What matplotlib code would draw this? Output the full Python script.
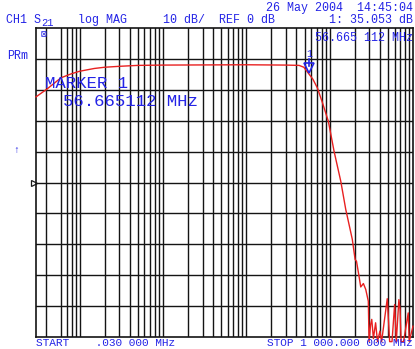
import numpy as np
import matplotlib
matplotlib.use("Agg")
import matplotlib.pyplot as plt
from matplotlib.transforms import blended_transform_factory

# trace (S21, log MAG)
freq_mhz = [0.03, 0.035, 0.04, 0.05, 0.06, 0.08, 0.1, 0.15, 0.2, 0.3, 0.5, 1.0,
            10.0, 30.0, 43.0, 49.0, 56.665, 63.0, 71.3, 82.0, 96.5, 113.0,
            136.0, 156.0, 187.0, 202.0, 210.0, 225.0, 236.0, 254.0, 271.0,
            291.0, 297.0, 310.0, 320.0, 335.0, 356.0, 375.0, 401.0, 420.0,
            491.0, 525.0, 560.0, 602.0, 630.0, 677.0, 700.0, 720.0, 770.0,
            877.0, 900.0, 1000.0]
s21_db = [27.7, 29.0, 30.1, 32.2, 33.9, 35.2, 36.0, 36.9, 37.3, 37.6, 37.9, 38.0,
          38.1, 38.0, 37.9, 37.3, 35.05, 33.4, 30.6, 25.8, 19.8, 10.1,
          0.4, -8.7, -18.4, -24.9, -25.5, -30.3, -33.8, -32.7, -34.6,
          -38.4, -51.5, -46.0, -44.3, -50.5, -45.4, -51.5, -48.1, -51.5,
          -37.6, -51.5, -51.5, -39.5, -51.5, -37.9, -41.1, -51.5, -51.5,
          -42.2, -51.5, -46.5]

marker_freq = 56.665112
marker_db = 35.053

# log grid lines as drawn on screen (0.05 MHz line is absent there)
grid_freqs = [0.04, 0.06, 0.07, 0.08, 0.09]
for dec in [0.1, 1.0, 10.0, 100.0]:
    grid_freqs += [k * dec for k in range(1, 10)]
grid_db = list(range(-40, 50, 10))

blue = "#2424e6"
red = "#e82020"
mono = ["Liberation Mono", "DejaVu Sans Mono", "DejaVu Sans"]

W, H = 415, 349
fig = plt.figure(figsize=(W / 100, H / 100), dpi=100)
ax = fig.add_axes([36 / W, 1 - 337 / H, (413 - 36) / W, (337 - 28) / H])
ax.set_xscale("log")
ax.set_xlim(0.03, 1000)
ax.set_ylim(-50, 50)
for f in grid_freqs:
    ax.axvline(f, color="#141414", lw=1.0, zorder=1)
for d in grid_db:
    ax.axhline(d, color="#141414", lw=1.0, zorder=1)
ax.set_xticks([])
ax.set_yticks([])
ax.minorticks_off()
for s in ax.spines.values():
    s.set_color("#141414")
    s.set_linewidth(1.2)

ax.plot(freq_mhz, s21_db, color=red, lw=1.0, zorder=3, clip_on=False)

# marker arrow
ax.plot([marker_freq, marker_freq], [marker_db + 5.0, marker_db + 2.6], color=blue, lw=1.2, zorder=4)
ax.plot([marker_freq], [marker_db + 2.0], marker="v", ms=7, mfc="none", mec=blue, mew=1.2, zorder=4)
ax.text(marker_freq, marker_db + 5.0, "1", color=blue, fontsize=7, family=mono,
        ha="center", va="bottom", zorder=4)

# text on screen
def ftxt(x, y, s, size=8.4, ha="left"):
    fig.text(x / W, 1 - y / H, s, color=blue, fontsize=size, family=mono,
             ha=ha, va="center")

ftxt(413, 8, "26 May 2004  14:45:04", ha="right")
ftxt(6, 20, "CH1 S")
fig.text(41 / W, 1 - 23 / H, "21", color=blue, fontsize=7.5, family=mono, ha="left", va="center")
ftxt(78, 20, "log MAG")
ftxt(163, 20, "10 dB/")
ftxt(219, 20, "REF 0 dB")
ftxt(413, 20, "1: 35.053 dB", ha="right")
ftxt(7, 56, "PRm")
ftxt(413, 38, "56.665 112 MHz", ha="right")
ftxt(41, 34, "\u22a0", size=7)
ftxt(45, 83, "MARKER 1", size=12.5)
ftxt(63, 101, "56.665112 MHz", size=12.5)
ftxt(13, 150, "\u2191", size=7)
ftxt(36, 343.5, "START    .030 000 MHz", size=8.0)
ftxt(413, 343.5, "STOP 1 000.000 000 MHz", size=8.0, ha="right")

tr = blended_transform_factory(fig.transFigure, ax.transData)
ax.plot([34 / W], [0], marker=">", ms=4, mfc="none", mec="#1a1a1a", mew=0.9,
        transform=tr, clip_on=False)

fig.savefig("out.png", dpi=100, facecolor="white")
